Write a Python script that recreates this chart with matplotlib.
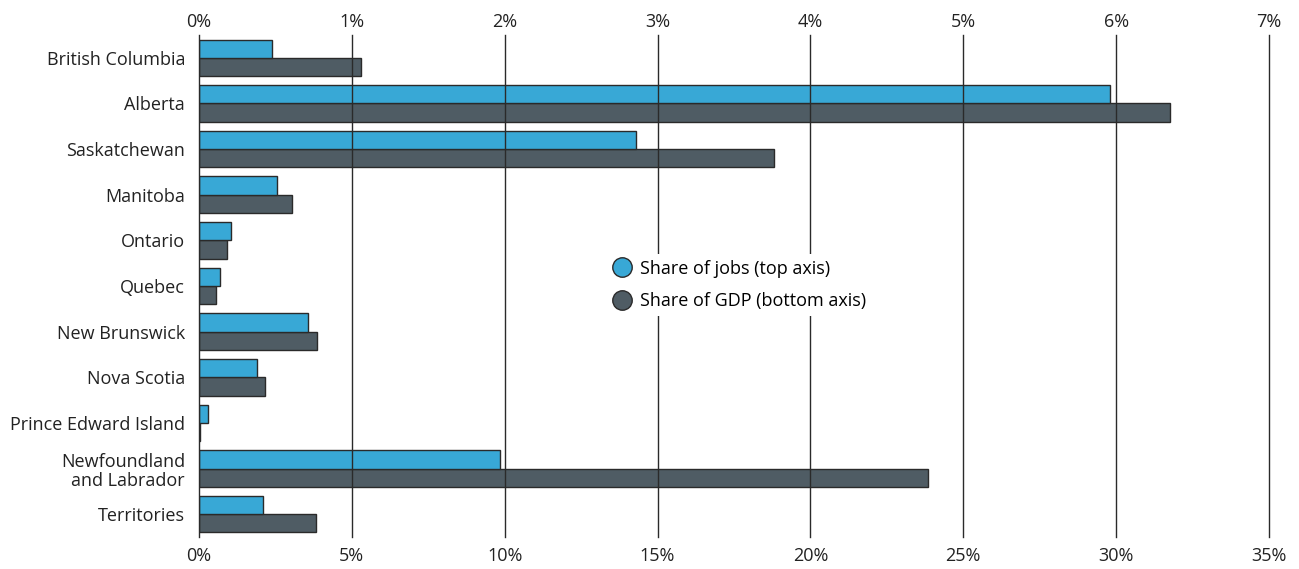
import matplotlib
matplotlib.use("Agg")
import matplotlib.pyplot as plt
import numpy as np
from matplotlib.lines import Line2D

provinces = ["British Columbia", "Alberta", "Saskatchewan", "Manitoba", "Ontario",
             "Quebec", "New Brunswick", "Nova Scotia", "Prince Edward Island",
             "Newfoundland\nand Labrador", "Territories"]
# share of jobs, percent (top axis, 0-7%)
jobs = [0.48, 5.96, 2.86, 0.51, 0.21, 0.14, 0.71, 0.38, 0.06, 1.97, 0.42]
# share of GDP, percent (bottom axis, 0-35%)
gdp = [5.3, 31.75, 18.8, 3.04, 0.92, 0.56, 3.86, 2.16, 0.03, 23.84, 3.83]

top_ticks = [0, 1, 2, 3, 4, 5, 6, 7]
bottom_ticks = [0, 5, 10, 15, 20, 25, 30, 35]

blue = "#38a8d6"
grey = "#4f5c64"
edge = "#2a2a2a"

plt.rcParams["font.family"] = ["Open Sans", "DejaVu Sans"]

fig = plt.figure(figsize=(12.99, 5.69), dpi=100)
ax = fig.add_axes([0.1532, 0.0562, 0.8237, 0.8823])
ax2 = ax.twiny()

y = np.arange(len(provinces))
h = 0.4

ax.barh(y + h / 2, gdp, height=h, color=grey, edgecolor=edge, linewidth=1, zorder=2)
ax2.barh(y - h / 2, jobs, height=h, color=blue, edgecolor=edge, linewidth=1, zorder=2)

ax.set_xlim(0, 35)
ax2.set_xlim(0, 7)
ax.set_ylim(len(provinces) - 0.5, -0.5)

ax.set_xticks(bottom_ticks)
ax.set_xticklabels([f"{t}%" for t in bottom_ticks])
ax2.set_xticks(top_ticks)
ax2.set_xticklabels([f"{t}%" for t in top_ticks])
ax.set_yticks(y)
ax.set_yticklabels(provinces, linespacing=1.1)

for a in (ax, ax2):
    for s in a.spines.values():
        s.set_visible(False)
    a.tick_params(length=0, labelsize=13, colors="#222222", pad=7)
ax.tick_params(axis="y", pad=10)
ax2.tick_params(axis="x", pad=3)

# vertical gridlines drawn over bars
for t in top_ticks:
    ax2.axvline(t, color="#2a2a2a", linewidth=1, zorder=3, clip_on=False)

handles = [
    Line2D([], [], marker="o", linestyle="none", markersize=14,
           markerfacecolor=blue, markeredgecolor=edge, label="Share of jobs (top axis)"),
    Line2D([], [], marker="o", linestyle="none", markersize=14,
           markerfacecolor=grey, markeredgecolor=edge, label="Share of GDP (bottom axis)"),
]
leg = ax2.legend(handles=handles, loc="center left", bbox_to_anchor=(0.372, 0.502),
                 frameon=True, facecolor="white", edgecolor="none", framealpha=1,
                 fontsize=13, handlelength=1.2, handletextpad=0.4,
                 borderpad=0.3, labelspacing=0.8)
leg.set_zorder(5)

fig.savefig("out.png", dpi=100, facecolor="white")
